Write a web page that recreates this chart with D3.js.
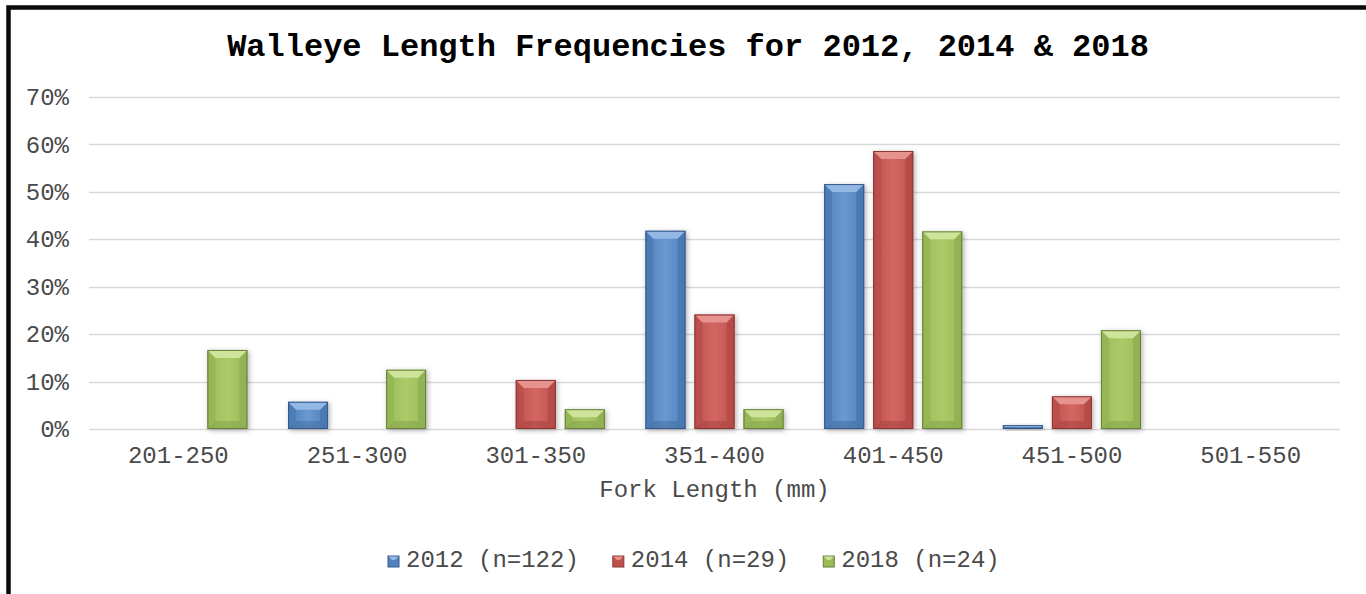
<!DOCTYPE html>
<html>
<head>
<meta charset="utf-8">
<script src="https://cdn.jsdelivr.net/npm/d3@7"></script>
<style>
  html, body { margin: 0; padding: 0; background: #fff; overflow: hidden; }
  svg { display: block; }
  text { font-family: "Liberation Mono", "Courier New", monospace; }
</style>
</head>
<body>
<svg id="chart" width="1366" height="594"></svg>
<script>
// Fork-length classes (mm)
const categories = ["201-250", "251-300", "301-350", "351-400", "401-450", "451-500", "501-550"];
// Survey years shown in the legend
const seriesNames = ["2012 (n=122)", "2014 (n=29)", "2018 (n=24)"];
// Share of fish in each class, per year
const values2012 = [0, 0.0574, 0, 0.4180, 0.5164, 0.0082, 0];
const values2014 = [0, 0, 0.1034, 0.2414, 0.5862, 0.0690, 0];
const values2018 = [0.1667, 0.125, 0.0417, 0.0417, 0.4167, 0.2083, 0];
const yTicks = [0, 0.1, 0.2, 0.3, 0.4, 0.5, 0.6, 0.7];

const seriesValues = [values2012, values2014, values2018];

// Colour sets per series: body, top bevel, sides, bottom, outline
const palette = [
  { body: "#4F81BD", top: "#94B8E4", side: "#4775AD", bottom: "#3E6697", stroke: "#36598A", light: "#6A98D0" },
  { body: "#C0504D", top: "#E6928F", side: "#B24A47", bottom: "#9E3F3C", stroke: "#8A3633", light: "#D36663" },
  { body: "#9BBB59", top: "#CDE49A", side: "#8FAE51", bottom: "#7F9C46", stroke: "#667F37", light: "#AACB68" }
];

const svg = d3.select("#chart");

const plot = { left: 89, right: 1340, top: 97, bottom: 429 };

const x0 = d3.scaleBand().domain(categories).range([plot.left, plot.right]).paddingInner(0).paddingOuter(0);
const x1 = d3.scaleBand().domain(seriesNames).range([0, x0.bandwidth()]).paddingInner(9 / 49).paddingOuter(0.414);
const y = d3.scaleLinear().domain([0, 0.7]).range([plot.bottom, plot.top]);

const defs = svg.append("defs");
const shadow = defs.append("filter").attr("id", "barShadow")
  .attr("x", "-30%").attr("y", "-30%").attr("width", "160%").attr("height", "160%");
shadow.append("feDropShadow").attr("dx", 1.5).attr("dy", 1.5).attr("stdDeviation", 2.5)
  .attr("flood-color", "#000").attr("flood-opacity", 0.3);

palette.forEach((p, i) => {
  const g = defs.append("linearGradient").attr("id", "body" + i)
    .attr("x1", 0).attr("y1", 0).attr("x2", 1).attr("y2", 0);
  g.append("stop").attr("offset", "0%").attr("stop-color", p.body);
  g.append("stop").attr("offset", "50%").attr("stop-color", p.light);
  g.append("stop").attr("offset", "100%").attr("stop-color", p.body);
});

// Outer frame
svg.append("rect")
  .attr("x", 8.5).attr("y", 7.5).attr("width", 1420).attr("height", 700)
  .attr("fill", "none").attr("stroke", "#0a0a0a").attr("stroke-width", 4.5);

// Title
svg.append("text")
  .attr("x", 688).attr("y", 56)
  .attr("text-anchor", "middle")
  .attr("font-size", 32).attr("font-weight", "bold").attr("fill", "#000")
  .text("Walleye Length Frequencies for 2012, 2014 & 2018");

// Horizontal gridlines
svg.append("g").selectAll("line").data(yTicks).join("line")
  .attr("x1", plot.left).attr("x2", plot.right)
  .attr("y1", d => Math.round(y(d)) + 0.5).attr("y2", d => Math.round(y(d)) + 0.5)
  .attr("stroke", "#d9d9d9").attr("stroke-width", 1.6);

// Y axis labels
const yAxis = d3.axisLeft(y).tickValues(yTicks).tickFormat(d3.format(".0%")).tickSize(0).tickPadding(0);
const yG = svg.append("g").attr("transform", `translate(${69},0)`).call(yAxis);
yG.select(".domain").remove();
yG.selectAll("text").attr("font-size", 24).attr("fill", "#4a4a4a")
  .attr("font-family", "'Liberation Mono', 'Courier New', monospace").attr("dy", "0.32em");

// X axis labels
const xAxis = d3.axisBottom(x0).tickSize(0).tickPadding(0);
const xG = svg.append("g").attr("transform", `translate(0,${plot.bottom})`).call(xAxis);
xG.select(".domain").remove();
xG.selectAll("text").attr("font-size", 24).attr("fill", "#4a4a4a")
  .attr("font-family", "'Liberation Mono', 'Courier New', monospace")
  .attr("y", 34).attr("dy", 0);

// Axis title
svg.append("text")
  .attr("x", (plot.left + plot.right) / 2).attr("y", 497)
  .attr("text-anchor", "middle").attr("font-size", 24).attr("fill", "#4a4a4a")
  .text("Fork Length (mm)");

// Bars with bevelled faces
const barData = [];
categories.forEach((c, ci) => {
  seriesNames.forEach((s, si) => {
    const v = seriesValues[si][ci];
    if (v > 0) barData.push({ cat: c, series: s, si, v });
  });
});

const bars = svg.append("g").selectAll("g.bar").data(barData).join("g").attr("class", "bar")
  .attr("filter", "url(#barShadow)");

bars.each(function(d) {
  const g = d3.select(this);
  const bx = x0(d.cat) + x1(d.series);
  const bw = x1.bandwidth();
  const by = y(d.v);
  const bh = y(0) - by;
  const p = palette[d.si];
  const b = Math.min(8, bh / 2, bw / 2);
  g.append("rect").attr("x", bx).attr("y", by).attr("width", bw).attr("height", bh)
    .attr("fill", `url(#body${d.si})`);
  const poly = pts => pts.map(q => q.join(",")).join(" ");
  // left and right faces
  g.append("polygon").attr("points", poly([[bx, by], [bx + b, by + b], [bx + b, by + bh - b], [bx, by + bh]]))
    .attr("fill", p.side).attr("opacity", 0.55);
  g.append("polygon").attr("points", poly([[bx + bw, by], [bx + bw - b, by + b], [bx + bw - b, by + bh - b], [bx + bw, by + bh]]))
    .attr("fill", p.side).attr("opacity", 0.75);
  // bottom face
  g.append("polygon").attr("points", poly([[bx, by + bh], [bx + b, by + bh - b], [bx + bw - b, by + bh - b], [bx + bw, by + bh]]))
    .attr("fill", p.bottom).attr("opacity", 0.45);
  // top face (highlight)
  g.append("polygon").attr("points", poly([[bx, by], [bx + bw, by], [bx + bw - b, by + b], [bx + b, by + b]]))
    .attr("fill", p.top);
  // outline
  g.append("rect").attr("x", bx + 0.5).attr("y", by + 0.5).attr("width", bw - 1).attr("height", Math.max(0, bh - 1))
    .attr("fill", "none").attr("stroke", p.stroke).attr("stroke-width", 1);
});

// Legend
const legend = svg.append("g");
let lx = 388;
seriesNames.forEach((s, i) => {
  const p = palette[i];
  const item = legend.append("g").attr("transform", `translate(${lx},556)`);
  item.append("rect").attr("x", 0).attr("y", 0).attr("width", 11).attr("height", 11).attr("fill", p.body)
    .attr("stroke", p.stroke).attr("stroke-width", 1);
  item.append("polygon").attr("points", "0.5,0.5 10.5,0.5 7,4 4,4").attr("fill", p.top);
  const t = item.append("text").attr("x", 18).attr("y", 11).attr("font-size", 24).attr("fill", "#4a4a4a").text(s);
  lx += 18 + t.node().getComputedTextLength() + 34;
});
</script>
</body>
</html>
